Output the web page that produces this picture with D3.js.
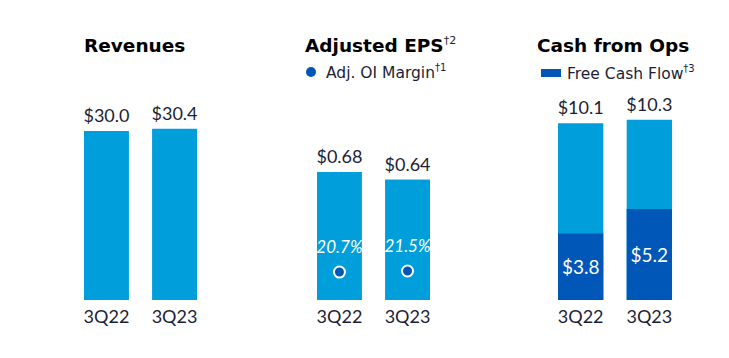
<!DOCTYPE html>
<html>
<head>
<meta charset="utf-8">
<script src="https://cdn.jsdelivr.net/npm/d3@7"></script>
<style>
  body { margin: 0; background: #fff; }
  text { font-family: Lato, "Open Sans", sans-serif; }
  .wide { font-family: "DejaVu Sans", sans-serif; }
</style>
</head>
<body>
<svg id="viz"></svg>
<script>
const width = 729, height = 358;
const svg = d3.select("#viz").attr("width", width).attr("height", height);

// data
const quarters = ["3Q22", "3Q23"];
const revenues = [30.0, 30.4];
const eps = [0.68, 0.64];
const oiMargin = [20.7, 21.5];
const cashOps = [10.1, 10.3];
const freeCash = [3.8, 5.2];

const lightBlue = "#009fdb", darkBlue = "#0057b8", textCol = "#1b1e36";
const baseY = 300;

// one band scale per panel
function xBand(left, right) {
  return d3.scaleBand().domain(quarters).range([left, right]).paddingInner(0.34).paddingOuter(0);
}

function addTitle(x, label, sup) {
  const t = svg.append("text").attr("class", "wide")
    .attr("x", x).attr("y", 52)
    .attr("font-size", "18.5px").attr("font-weight", "bold").attr("fill", "#000")
    .text(label);
  if (sup) {
    t.append("tspan").attr("font-size", "11px").attr("font-weight", "normal")
      .attr("dy", -8).attr("fill", textCol).text(sup);
  }
}

function quarterAxis(x) {
  svg.append("g").selectAll("text")
    .data(quarters).join("text")
    .attr("x", d => x(d) + x.bandwidth() / 2)
    .attr("y", 323)
    .attr("text-anchor", "middle")
    .attr("font-size", "18px").attr("fill", textCol)
    .text(d => d);
}

// ---- Revenues
const xRev = xBand(84, 197);
const yRev = d3.scaleLinear().domain([0, 30]).range([baseY, baseY - 169]);
addTitle(84, "Revenues");
svg.append("g").selectAll("rect")
  .data(revenues).join("rect")
  .attr("x", (d, i) => xRev(quarters[i]))
  .attr("y", d => yRev(d))
  .attr("width", xRev.bandwidth())
  .attr("height", d => baseY - yRev(d))
  .attr("fill", lightBlue);
svg.append("g").selectAll("text")
  .data(revenues).join("text")
  .attr("x", (d, i) => xRev(quarters[i]) + xRev.bandwidth() / 2)
  .attr("y", d => yRev(d) - 9)
  .attr("text-anchor", "middle").attr("font-size", "18px").attr("fill", textCol)
  .text(d => "$" + d.toFixed(1));
quarterAxis(xRev);

// ---- Adjusted EPS
const xEps = xBand(317, 430);
const yEps = d3.scaleLinear().domain([0, 0.68]).range([baseY, baseY - 128]);
const yMargin = d3.scaleLinear().domain([0, 100]).range([baseY, baseY - 135]);
addTitle(305, "Adjusted EPS", "†2");
svg.append("circle").attr("cx", 311).attr("cy", 72).attr("r", 5).attr("fill", darkBlue);
svg.append("text").attr("class", "wide").attr("x", 326).attr("y", 78)
  .attr("font-size", "15.5px").attr("fill", textCol)
  .text("Adj. OI Margin")
  .append("tspan").attr("font-size", "10px").attr("dy", -7).text("†1");
svg.append("g").selectAll("rect")
  .data(eps).join("rect")
  .attr("x", (d, i) => xEps(quarters[i]))
  .attr("y", d => yEps(d))
  .attr("width", xEps.bandwidth())
  .attr("height", d => baseY - yEps(d))
  .attr("fill", lightBlue);
svg.append("g").selectAll("text")
  .data(eps).join("text")
  .attr("x", (d, i) => xEps(quarters[i]) + xEps.bandwidth() / 2)
  .attr("y", d => yEps(d) - 9)
  .attr("text-anchor", "middle").attr("font-size", "18px").attr("fill", textCol)
  .text(d => "$" + d.toFixed(2));
svg.append("g").selectAll("circle")
  .data(oiMargin).join("circle")
  .attr("cx", (d, i) => xEps(quarters[i]) + xEps.bandwidth() / 2)
  .attr("cy", d => yMargin(d))
  .attr("r", 5.5)
  .attr("fill", darkBlue).attr("stroke", "#fff").attr("stroke-width", 2);
svg.append("g").selectAll("text")
  .data(oiMargin).join("text")
  .attr("x", (d, i) => xEps(quarters[i]) + xEps.bandwidth() / 2)
  .attr("y", d => yMargin(d) - 19)
  .attr("text-anchor", "middle").attr("font-size", "17px")
  .attr("font-style", "italic").attr("fill", "#fff")
  .text(d => d.toFixed(1) + "%");
quarterAxis(xEps);

// ---- Cash from Ops
const xCash = xBand(558, 672);
const yCash = d3.scaleLinear().domain([0, 10]).range([baseY, baseY - 175]);
addTitle(537, "Cash from Ops");
svg.append("rect").attr("x", 541).attr("y", 69).attr("width", 20).attr("height", 8).attr("fill", darkBlue);
svg.append("text").attr("class", "wide").attr("x", 567).attr("y", 79)
  .attr("font-size", "15.5px").attr("fill", textCol)
  .text("Free Cash Flow")
  .append("tspan").attr("font-size", "10px").attr("dy", -7).text("†3");
svg.append("g").selectAll("rect")
  .data(cashOps).join("rect")
  .attr("x", (d, i) => xCash(quarters[i]))
  .attr("y", d => yCash(d))
  .attr("width", xCash.bandwidth())
  .attr("height", d => baseY - yCash(d))
  .attr("fill", lightBlue);
svg.append("g").selectAll("rect")
  .data(freeCash).join("rect")
  .attr("x", (d, i) => xCash(quarters[i]))
  .attr("y", d => yCash(d))
  .attr("width", xCash.bandwidth())
  .attr("height", d => baseY - yCash(d))
  .attr("fill", darkBlue);
svg.append("g").selectAll("text")
  .data(cashOps).join("text")
  .attr("x", (d, i) => xCash(quarters[i]) + xCash.bandwidth() / 2)
  .attr("y", d => yCash(d) - 9)
  .attr("text-anchor", "middle").attr("font-size", "18px").attr("fill", textCol)
  .text(d => "$" + d.toFixed(1));
svg.append("g").selectAll("text")
  .data(freeCash).join("text")
  .attr("x", (d, i) => xCash(quarters[i]) + xCash.bandwidth() / 2)
  .attr("y", d => (yCash(d) + baseY) / 2 + 7)
  .attr("text-anchor", "middle").attr("font-size", "19px").attr("fill", "#fff")
  .text(d => "$" + d.toFixed(1));
quarterAxis(xCash);
</script>
</body>
</html>
